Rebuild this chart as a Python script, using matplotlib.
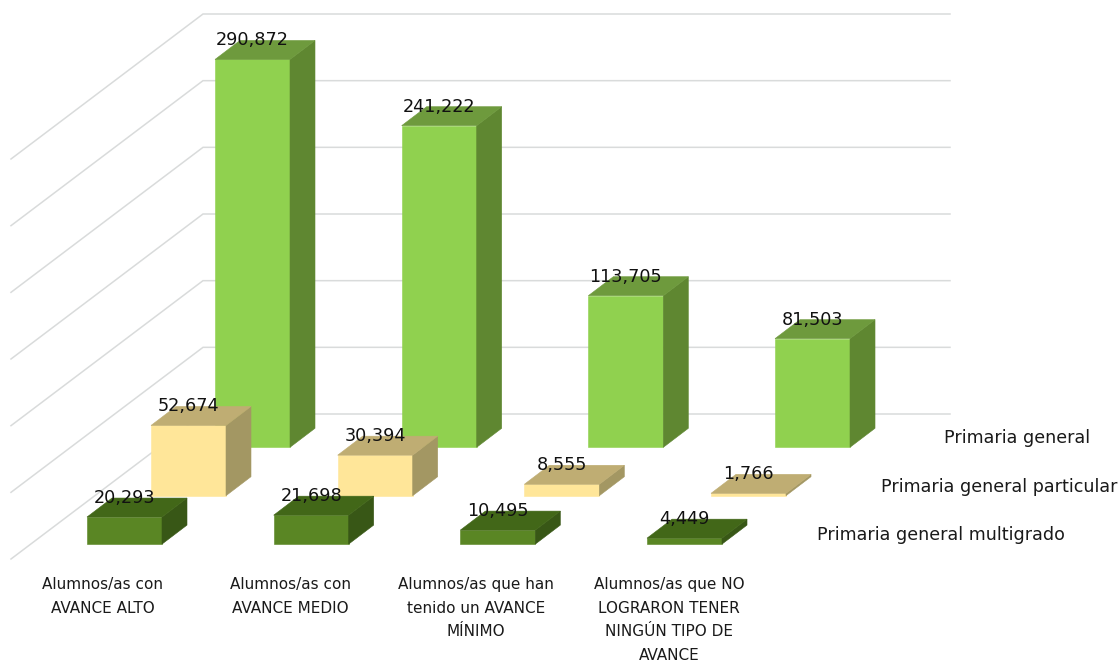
import matplotlib
matplotlib.use("Agg")
import matplotlib.pyplot as plt
from matplotlib.patches import Polygon

# ---- data ----
categories = ["Alumnos/as con\nAVANCE ALTO",
              "Alumnos/as con\nAVANCE MEDIO",
              "Alumnos/as que han\ntenido un AVANCE\nMÍNIMO",
              "Alumnos/as que NO\nLOGRARON TENER\nNINGÚN TIPO DE\nAVANCE"]
series_names = ["Primaria general", "Primaria general particular", "Primaria general multigrado"]
primaria_general = [290872, 241222, 113705, 81503]
primaria_particular = [52674, 30394, 8555, 1766]
primaria_multigrado = [20293, 21698, 10495, 4449]
grid_values = [0, 50000, 100000, 150000, 200000, 250000, 300000]

# ---- styles ----
FONT = "DejaVu Sans"
GRID = "#D9DBDB"
palette = [("#90D14F", "#6E9A3D", "#5F8731"),
           ("#FFE699", "#BFAD73", "#A39763"),
           ("#5A8624", "#426718", "#385716")]

# ---- oblique 3-D projection, in output pixels ----
PX_PER_UNIT = 400 / 300000
ZERO_Y = 414
BAR_W, DEPTH_X, DEPTH_Y = 75, 25, 19
CAT_STEP = 186.67
SER_DX, SER_DY = -64, 48.4
ORIGIN_X, ORIGIN_BASE = 215, 447.3
CAT_LABEL_X = [103, 290, 476, 669]


def vy(v):
    return v * PX_PER_UNIT


fig = plt.figure(figsize=(11.2, 6.61), dpi=100, facecolor="white")
ax = fig.add_axes([0, 0, 1, 1])
ax.set_xlim(0, 1120)
ax.set_ylim(661, 0)
ax.axis("off")

# walls
for g in grid_values:
    y = ZERO_Y - vy(g)
    ax.plot([11, 203, 950], [y + 145, y, y], color=GRID, lw=1.1, zorder=1,
            solid_joinstyle="miter")

# bars, back to front
all_series = [primaria_general, primaria_particular, primaria_multigrado]
z = 2
for s, values in enumerate(all_series):
    front, top, side = palette[s]
    for c, v in enumerate(values):
        x0 = ORIGIN_X + c * CAT_STEP + s * SER_DX
        base = ORIGIN_BASE + s * SER_DY
        h = vy(v)
        x1, ytop = x0 + BAR_W, base - h
        faces = [
            ([(x0, base), (x1, base), (x1, ytop), (x0, ytop)], front),
            ([(x1, base), (x1 + DEPTH_X, base - DEPTH_Y),
              (x1 + DEPTH_X, ytop - DEPTH_Y), (x1, ytop)], side),
            ([(x0, ytop), (x1, ytop), (x1 + DEPTH_X, ytop - DEPTH_Y),
              (x0 + DEPTH_X, ytop - DEPTH_Y)], top),
        ]
        for pts, col in faces:
            ax.add_patch(Polygon(pts, closed=True, facecolor=col, edgecolor=col,
                                 lw=0.4, zorder=z))
    z += 1

# value labels above everything
for s, values in enumerate(all_series):
    for c, v in enumerate(values):
        xc = ORIGIN_X + c * CAT_STEP + s * SER_DX + BAR_W / 2
        y = ORIGIN_BASE + s * SER_DY - vy(v) - DEPTH_Y
        ax.text(xc, y, f"{v:,}", ha="center", va="center", family=FONT,
                fontsize=12.7, color="#111111", zorder=10)

# category labels
for c, label in enumerate(categories):
    for i, line in enumerate(label.split("\n")):
        ax.text(CAT_LABEL_X[c], 584.5 + i * 23.6, line, ha="center", va="center", family=FONT,
                fontsize=11, color="#1a1a1a", zorder=10)

# series labels on the depth axis
for name, xl, yl in zip(series_names, [944, 881, 817], [438, 487.5, 535.5]):
    ax.text(xl, yl, name, ha="left", va="center", family=FONT,
            fontsize=12.65, color="#1a1a1a", zorder=10)

fig.savefig("out.png", dpi=100, facecolor="white")
